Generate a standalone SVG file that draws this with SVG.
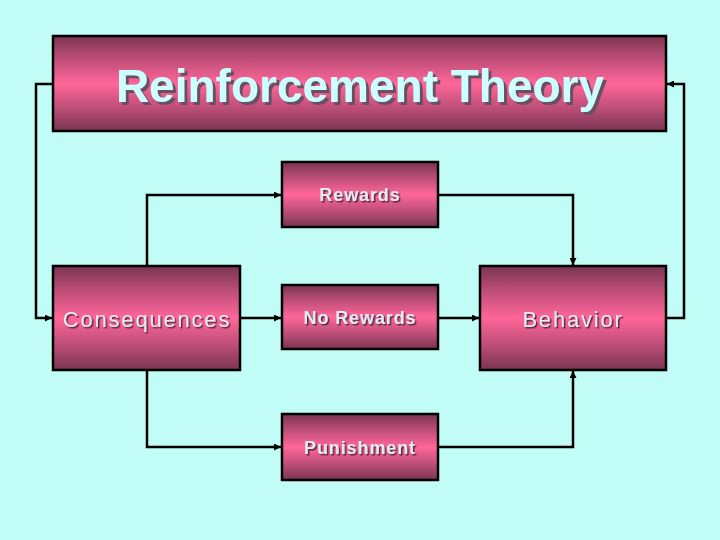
<svg xmlns="http://www.w3.org/2000/svg" width="720" height="540" viewBox="0 0 720 540">
<style>
.box{stroke:#000;stroke-width:2.5;fill:url(#pink)}
.conn{fill:none;stroke:#000;stroke-width:2.5}
.lbl{font-family:"Liberation Sans",Arial,sans-serif;text-anchor:middle}
.big{font-size:22px;letter-spacing:1.8px;fill:#e8e8f2;filter:url(#sh)}
.small{font-size:18px;font-weight:bold;letter-spacing:0.9px;fill:#e8e8f2;filter:url(#sh)}
.title{font-size:46px;font-weight:bold;fill:#ccffff;filter:url(#shT)}
</style>
<defs>
<linearGradient id="pink" x1="0" y1="0" x2="0" y2="1">
<stop offset="0" stop-color="#7a3450"/>
<stop offset="0.2" stop-color="#b24a72"/>
<stop offset="0.5" stop-color="#ff6699"/>
<stop offset="0.8" stop-color="#b24a72"/>
<stop offset="1" stop-color="#7a3450"/>
</linearGradient>
<filter id="sh" x="-10%" y="-30%" width="120%" height="160%">
<feDropShadow dx="1.5" dy="1.5" stdDeviation="0" flood-color="#5a2a3e"/>
</filter>
<filter id="shT" x="-10%" y="-30%" width="120%" height="160%">
<feDropShadow dx="3" dy="3" stdDeviation="0" flood-color="#6a5060"/>
</filter>
<marker id="arr" markerWidth="7" markerHeight="7" refX="7" refY="3.5" orient="auto" markerUnits="userSpaceOnUse">
<path d="M0,0 L7,3.5 L0,7 z" fill="#000"/>
</marker>
</defs>
<rect width="720" height="540" fill="#c2fcf6"/>
<g id="connectors">
<path class="conn" d="M53,84 H36 V318 H52" marker-end="url(#arr)"/>
<path class="conn" d="M666,318 H684 V84 H667" marker-end="url(#arr)"/>
<path class="conn" d="M147,266 V195 H281" marker-end="url(#arr)"/>
<path class="conn" d="M438,195 H573 V265" marker-end="url(#arr)"/>
<path class="conn" d="M240,318 H281" marker-end="url(#arr)"/>
<path class="conn" d="M438,318 H479" marker-end="url(#arr)"/>
<path class="conn" d="M147,370 V447 H281" marker-end="url(#arr)"/>
<path class="conn" d="M438,447 H573 V371" marker-end="url(#arr)"/>
</g>
<g id="title">
<rect class="box" x="53" y="36" width="613" height="95"/>
<text class="lbl title" x="360" y="102">Reinforcement Theory</text>
</g>
<g id="consequences">
<rect class="box" x="53" y="266" width="187" height="104"/>
<text class="lbl big" x="147" y="327">Consequences</text>
</g>
<g id="rewards">
<rect class="box" x="282" y="162" width="156" height="65"/>
<text class="lbl small" x="360" y="201">Rewards</text>
</g>
<g id="norewards">
<rect class="box" x="282" y="285" width="156" height="64"/>
<text class="lbl small" x="360" y="324">No Rewards</text>
</g>
<g id="punishment">
<rect class="box" x="282" y="414" width="156" height="66"/>
<text class="lbl small" x="360" y="454">Punishment</text>
</g>
<g id="behavior">
<rect class="box" x="480" y="266" width="186" height="104"/>
<text class="lbl big" x="573" y="327">Behavior</text>
</g>
</svg>
